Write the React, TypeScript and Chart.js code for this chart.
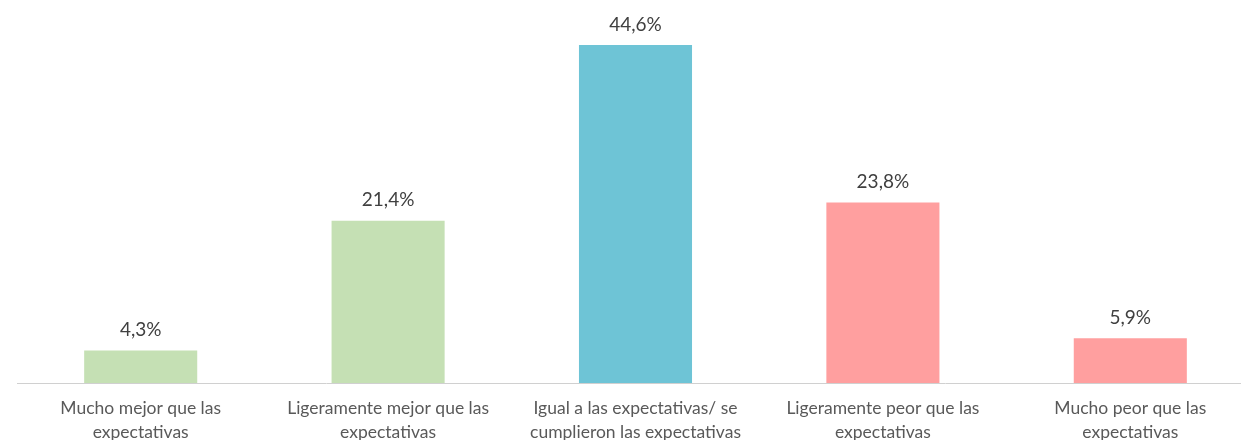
import React, { useEffect, useRef } from "react";
import { Chart, registerables } from "chart.js";

Chart.register(...registerables);

const categories: string[][] = [
  ["Mucho mejor que las", "expectativas"],
  ["Ligeramente mejor que las", "expectativas"],
  ["Igual a las expectativas/ se", "cumplieron las expectativas"],
  ["Ligeramente peor que las", "expectativas"],
  ["Mucho peor que las", "expectativas"],
];
const values: number[] = [4.3, 21.4, 44.6, 23.8, 5.9];
const barColors: string[] = ["#C5E0B4", "#C5E0B4", "#6EC4D6", "#FF9F9F", "#FF9F9F"];

const FONT = "Lato, 'Open Sans', sans-serif";

const valueLabels = {
  id: "valueLabels",
  afterDatasetsDraw(chart: any) {
    const ctx = chart.ctx;
    const meta = chart.getDatasetMeta(0);
    ctx.save();
    ctx.font = `19px ${FONT}`;
    ctx.fillStyle = "#404040";
    ctx.textAlign = "center";
    ctx.textBaseline = "bottom";
    meta.data.forEach((bar: any, i: number) => {
      const v = values[i];
      ctx.fillText(v.toFixed(1).replace(".", ",") + "%", bar.x, bar.y - 11);
    });
    ctx.restore();
  },
};

export default function App() {
  const ref = useRef<HTMLCanvasElement | null>(null);
  useEffect(() => {
    if (!ref.current) return;
    const chart = new Chart(ref.current, {
      type: "bar",
      data: {
        labels: categories,
        datasets: [
          {
            data: values,
            backgroundColor: barColors,
            barPercentage: 0.457,
            categoryPercentage: 1,
          },
        ],
      },
      options: {
        animation: false,
        responsive: false,
        maintainAspectRatio: false,
        layout: { padding: { top: 4, left: 17, right: 0, bottom: 0 } },
        plugins: { legend: { display: false }, tooltip: { enabled: false } },
        scales: {
          y: { display: false, min: 0, max: 50 },
          x: {
            grid: { display: false, drawTicks: false },
            border: { display: true, color: "#D0D0D0", width: 1 },
            ticks: {
              color: "#595959",
              font: { family: FONT, size: 17.5, lineHeight: 24 / 17.5 },
              padding: 13,
              maxRotation: 0,
              autoSkip: false,
            },
          },
        },
      },
      plugins: [valueLabels],
    });
    return () => chart.destroy();
  }, []);
  return (
    <div style={{ position: "fixed", left: 0, top: 0, width: 1241, height: 440, overflow: "hidden", background: "#fff" }}>
      <canvas ref={ref} width={1254} height={457} style={{ width: 1254, height: 457, display: "block" }} />
    </div>
  );
}
